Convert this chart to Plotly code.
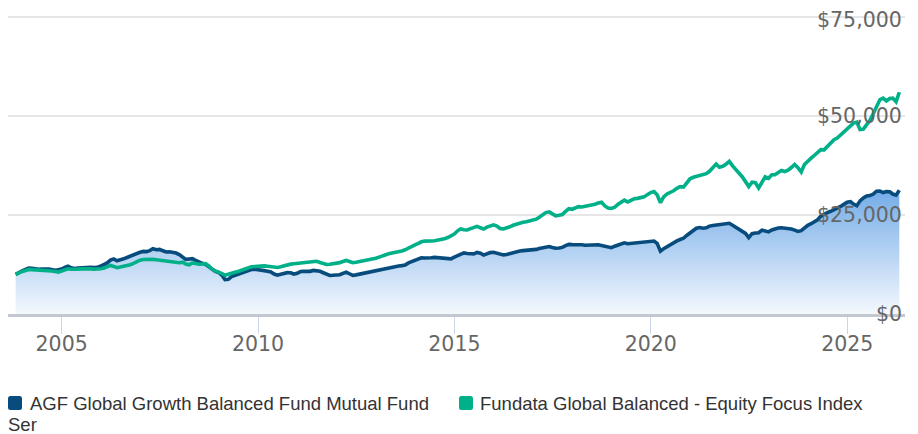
import pandas as pd
import plotly.graph_objects as go

# Growth of $10,000, month-end values from Oct 2003
start_month = "2003-10-31"

fund_name = "AGF Global Growth Balanced Fund Mutual Fund Ser"
index_name = "Fundata Global Balanced - Equity Focus Index"

fund_values = [
    10000, 10530, 10880, 11260, 11590, 11540, 11330, 11310, 11360, 11410,
    11360, 11210, 11060, 11180, 11360, 11790, 12090, 11660, 11490, 11590,
    11690, 11790, 11820, 11770, 11710, 11790, 12120, 12470, 12900, 13610,
    13920, 13460, 13610, 13940, 14270, 14650, 15000, 15360, 15610, 15810,
    15760, 16020, 16500, 16240, 16320, 15990, 15660, 15710, 15560, 15410,
    15000, 14270, 13810, 13890, 13970, 13540, 13060, 12800, 12570, 11970,
    11360, 10780, 10500, 9770, 8680, 8750, 9440, 9740, 10020, 10300,
    10650, 11060, 11260, 11300, 11230, 11160, 10960, 10780, 10600, 10100,
    9820, 10040, 10250, 10450, 10420, 10100, 10300, 10730, 10780, 10700,
    10780, 11010, 10950, 10780, 10420, 10070, 9740, 9790, 9870, 9920,
    10250, 10580, 10170, 9740, 9890, 10070, 10220, 10450, 10650, 10850,
    11060, 11160, 11280, 11410, 11560, 11820, 12040, 12140, 12220, 12350,
    12900, 13210, 13540, 13890, 14220, 14150, 14280, 14200, 14300, 14180,
    14230, 14120, 13920, 13940, 14370, 14780, 15210, 15430, 15280, 15180,
    15210, 15560, 15360, 14880, 15230, 15510, 15610, 15360, 15000, 14930,
    15030, 15260, 15560, 15890, 15940, 16020, 16070, 16140, 16240, 16320,
    16550, 16770, 17000, 17050, 16830, 16620, 16670, 16830, 17280, 17580,
    17530, 17600, 17550, 17510, 17380, 17420, 17460, 17560, 17480, 17330,
    17130, 16930, 16750, 17130, 17460, 17740, 17990, 17760, 17860, 17960,
    18040, 18120, 18240, 18390, 18490, 18440, 17860, 15890, 16520, 17080,
    17460, 17940, 18490, 18820, 19130, 19840, 20440, 21000, 21680, 21860,
    21660, 21780, 22210, 22370, 22490, 22670, 22590, 22900, 22920, 22440,
    21910, 21400, 20970, 20370, 19300, 20290, 20470, 20520, 21180, 21080,
    20750, 21230, 21510, 21730, 21810, 21760, 21680, 21480, 21200, 20870,
    21050, 21810, 22420, 22820, 23230, 23810, 24720, 25300, 25600, 25960,
    26290, 26640, 27170, 27700, 28260, 28410, 27780, 27380, 28590, 29320,
    29800, 29930, 30310, 31040, 31090, 30690, 30940, 30880, 30310, 30030,
    31250,
]

index_values = [
    10000, 10470, 10750, 11010, 11260, 11210, 11180, 11130, 11080, 11010,
    10960, 10850, 10730, 10600, 10880, 11180, 11440, 11310, 11260, 11330,
    11410, 11460, 11490, 11390, 11310, 11310, 11440, 11590, 11820, 12270,
    12020, 11710, 11870, 11990, 12140, 12450, 12780, 13230, 13610, 13790,
    13840, 13760, 13800, 13690, 13590, 13460, 13360, 13360, 13230, 13110,
    12950, 13080, 12630, 12420, 12880, 12780, 12570, 12630, 12750, 12140,
    11310, 10900, 10650, 10200, 9790, 10120, 10370, 10550, 10750, 10980,
    11260, 11610, 11940, 12020, 12070, 12090, 12150, 12060, 11990, 11710,
    11770, 11940, 12220, 12470, 12600, 12700, 12800, 12900, 13030, 13130,
    13210, 13280, 13330, 13030, 12780, 12520, 12570, 12650, 12700, 12980,
    13260, 13540, 13260, 12950, 13080, 13210, 13360, 13510, 13690, 13840,
    14070, 14370, 14700, 14980, 15230, 15410, 15530, 15690, 15940, 16220,
    16720, 17180, 17460, 17840, 18240, 18420, 18350, 18450, 18490, 18650,
    18770, 19000, 19330, 19660, 20190, 21020, 21480, 21280, 21230, 21580,
    21890, 22140, 21780, 21480, 21940, 22260, 22540, 22240, 21610, 21510,
    21730, 22040, 22420, 22750, 23070, 23200, 23330, 23480, 23630, 23960,
    24440, 25000, 25630, 25810, 25330, 24820, 24950, 25120, 25930, 26590,
    26460, 26770, 27120, 27050, 27180, 27270, 27500, 27730, 28030, 28240,
    27300, 26790, 26690, 26970, 27700, 28240, 28770, 28310, 28690, 29120,
    29220, 29320, 29600, 30160, 30690, 30940, 30110, 28130, 29600, 30340,
    30690, 31140, 31750, 32180, 32080, 32970, 34160, 34540, 34760, 34860,
    35270, 35470, 36050, 36960, 37900, 37070, 37340, 37850, 38580, 37420,
    36610, 35770, 34690, 33450, 32210, 33320, 33170, 31830, 33270, 34660,
    34280, 35170, 35190, 35670, 36280, 36000, 36360, 37010, 37800, 36990,
    35900, 37770, 38710, 39370, 40050, 40860, 41540, 41490, 42330, 43490,
    44050, 44480, 45240, 45870, 46630, 47510, 48250, 48480, 46600, 46700,
    47870, 48930, 50630, 52270, 54140, 54550, 53840, 54450, 54550, 53640,
    56040,
]

y_ticks = [0, 25000, 50000, 75000]
y_tick_labels = ["$0", "$25,000", "$50,000", "$75,000"]
x_tick_start = "2005-01-01"

dates = pd.date_range(start=start_month, periods=len(fund_values), freq="ME")

FUND_COLOR = "#084c7e"
INDEX_COLOR = "#00b088"
W, H = 918, 434
M_L, M_R, M_T, M_B = 8, 13, 16, 120
PLOT_W = W - M_L - M_R
PLOT_H = H - M_T - M_B

fig = go.Figure()

fig.add_trace(go.Scatter(
    x=dates, y=fund_values, name=fund_name, mode="lines",
    line=dict(color=FUND_COLOR, width=3.6),
    fill="tozeroy",
    fillgradient=dict(
        type="vertical",
        start=0, stop=max(fund_values),
        colorscale=[[0, "#f4f8fd"], [1, "#74ace8"]],
    ),
    showlegend=False, hoverinfo="skip",
))

fig.add_trace(go.Scatter(
    x=dates, y=index_values, name=index_name, mode="lines",
    line=dict(color=INDEX_COLOR, width=3.6),
    showlegend=False, hoverinfo="skip",
))


def paper_x(px):
    return (px - M_L) / PLOT_W


def paper_y(py):
    return (H - M_B - py) / PLOT_H


def rounded_square(x0, y0, size, r):
    # path in paper coordinates for a small rounded legend swatch
    x1, y1 = x0 + size, y0 + size
    pts = [
        f"M {paper_x(x0 + r)},{paper_y(y0)}",
        f"L {paper_x(x1 - r)},{paper_y(y0)}",
        f"Q {paper_x(x1)},{paper_y(y0)} {paper_x(x1)},{paper_y(y0 + r)}",
        f"L {paper_x(x1)},{paper_y(y1 - r)}",
        f"Q {paper_x(x1)},{paper_y(y1)} {paper_x(x1 - r)},{paper_y(y1)}",
        f"L {paper_x(x0 + r)},{paper_y(y1)}",
        f"Q {paper_x(x0)},{paper_y(y1)} {paper_x(x0)},{paper_y(y1 - r)}",
        f"L {paper_x(x0)},{paper_y(y0 + r)}",
        f"Q {paper_x(x0)},{paper_y(y0)} {paper_x(x0 + r)},{paper_y(y0)}",
        "Z",
    ]
    return " ".join(pts)


legend_font = dict(family="Liberation Sans, Arial, sans-serif", size=18.5, color="#333333")
tick_font = dict(family="DejaVu Sans, Verdana, sans-serif", size=20.5, color="#666666")
fund_words = fund_name.rsplit(" ", 1)

shapes = [
    dict(type="path", xref="paper", yref="paper", path=rounded_square(8, 396, 14, 2.5),
         fillcolor=FUND_COLOR, line=dict(width=0)),
    dict(type="path", xref="paper", yref="paper", path=rounded_square(459, 396, 14, 2.5),
         fillcolor=INDEX_COLOR, line=dict(width=0)),
]
annotations = [
    dict(text=fund_words[0], x=paper_x(28), y=paper_y(403), xref="paper", yref="paper",
         xanchor="left", yanchor="middle", showarrow=False, font=legend_font),
    dict(text=fund_words[1], x=paper_x(6), y=paper_y(424), xref="paper", yref="paper",
         xanchor="left", yanchor="middle", showarrow=False, font=legend_font),
    dict(text=index_name, x=paper_x(478), y=paper_y(403), xref="paper", yref="paper",
         xanchor="left", yanchor="middle", showarrow=False, font=legend_font),
]

# value labels drawn inside the plot, right-aligned on each gridline
top_tick = max(y_ticks)
for val, label in zip(y_ticks, y_tick_labels):
    annotations.append(dict(
        text=label, x=1, y=val, xref="paper", yref="y",
        xanchor="right", yanchor="middle", xshift=-1,
        yshift=-3 if val == top_tick else 0,
        showarrow=False, font=tick_font,
    ))

fig.update_layout(
    width=W, height=H,
    margin=dict(l=M_L, r=M_R, t=M_T, b=M_B),
    paper_bgcolor="white", plot_bgcolor="white",
    showlegend=False,
    shapes=shapes, annotations=annotations,
    xaxis=dict(
        type="date",
        range=["2003-08-21", "2026-06-22"],
        tick0=x_tick_start, dtick="M60", tickformat="%Y",
        showgrid=False, zeroline=False,
        showline=True, linecolor="#c4c8d0", linewidth=3,
        ticks="outside", ticklen=17, tickwidth=1, tickcolor="#ccd6eb",
        ticklabelstandoff=-8,
        tickfont=tick_font,
    ),
    yaxis=dict(
        range=[0, 75300],
        tickvals=y_ticks, showticklabels=False,
        showgrid=True, gridcolor="#e6e6e6", gridwidth=2,
        zeroline=False, showline=False, ticks="",
    ),
)

fig.write_html("out.html")
